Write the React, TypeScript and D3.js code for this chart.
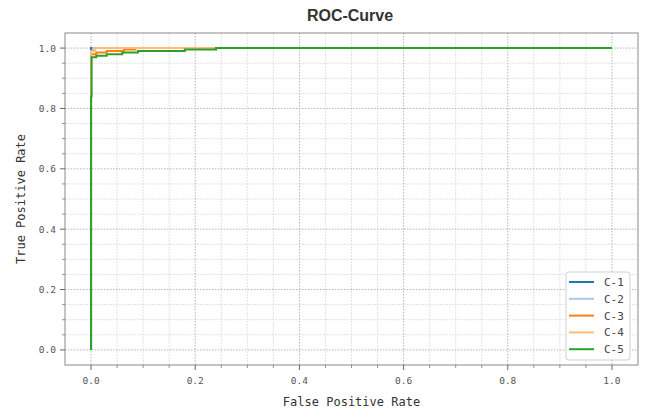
import React from "react";
import * as d3 from "d3";

const seriesNames = ["C-1", "C-2", "C-3", "C-4", "C-5"];
const seriesColors = ["#1f77b4", "#aec7e8", "#ff7f0e", "#ffbb78", "#2ca02c"];

const c1Fpr = [0, 0, 1];
const c1Tpr = [0, 1, 1];
const c2Fpr = [0, 0, 0.004, 0.004, 1];
const c2Tpr = [0, 0.99, 0.99, 1, 1];
const c3Fpr = [0, 0, 0.01, 0.01, 0.03, 0.03, 0.063, 0.063, 0.085, 0.085, 1];
const c3Tpr = [0, 0.98, 0.98, 0.985, 0.985, 0.99, 0.99, 0.995, 0.995, 1, 1];
const c4Fpr = [0, 0, 0.008, 0.008, 1];
const c4Tpr = [0, 0.99, 0.99, 1, 1];
const c5Fpr = [0, 0, 0.001, 0.001, 0.01, 0.01, 0.03, 0.03, 0.06, 0.06, 0.09, 0.09, 0.18, 0.18, 0.24, 0.24, 1];
const c5Tpr = [0, 0.84, 0.84, 0.97, 0.97, 0.975, 0.975, 0.98, 0.98, 0.985, 0.985, 0.99, 0.99, 0.995, 0.995, 1, 1];

const xTicks = [0, 0.2, 0.4, 0.6, 0.8, 1.0];
const yTicks = [0, 0.2, 0.4, 0.6, 0.8, 1.0];

const allFpr = [c1Fpr, c2Fpr, c3Fpr, c4Fpr, c5Fpr];
const allTpr = [c1Tpr, c2Tpr, c3Tpr, c4Tpr, c5Tpr];

export default function App() {
  const W = 645, H = 413;
  const L = 65, R = 638, T = 33, B = 365;
  const x = d3.scaleLinear().domain([-0.05, 1.05]).range([L, R]);
  const y = d3.scaleLinear().domain([-0.05, 1.05]).range([B, T]);
  const minor = d3.range(0, 1.0001, 0.05).filter((v) => Math.abs(v * 5 - Math.round(v * 5)) > 1e-6);
  const line = d3.line<[number, number]>().x((d) => x(d[0])).y((d) => y(d[1]));
  const mono = "'DejaVu Sans Mono', monospace";

  return (
    <svg width={W} height={H} style={{ position: "absolute", left: 0, top: 0 }}>
      <rect x={0} y={0} width={W} height={H} fill="#fff" />
      {minor.map((v, i) => (
        <g key={"mg" + i}>
          <line x1={x(v)} x2={x(v)} y1={T} y2={B} stroke="#dadada" strokeWidth={0.8} strokeDasharray="2,1" />
          <line x1={L} x2={R} y1={y(v)} y2={y(v)} stroke="#dadada" strokeWidth={0.8} strokeDasharray="2,1" />
        </g>
      ))}
      {xTicks.map((v, i) => (
        <line key={"gx" + i} x1={x(v)} x2={x(v)} y1={T} y2={B} stroke="#adadad" strokeWidth={0.9} strokeDasharray="1.5,1.5" />
      ))}
      {yTicks.map((v, i) => (
        <line key={"gy" + i} x1={L} x2={R} y1={y(v)} y2={y(v)} stroke="#adadad" strokeWidth={0.9} strokeDasharray="1.5,1.5" />
      ))}
      {allFpr.map((fpr, i) => (
        <path
          key={"c" + i}
          d={line(fpr.map((f, j) => [f, allTpr[i][j]] as [number, number])) || ""}
          fill="none"
          stroke={seriesColors[i]}
          strokeWidth={2}
        />
      ))}
      <rect x={L} y={T} width={R - L} height={B - T} fill="none" stroke="#8a8a8a" strokeWidth={1} />
      {xTicks.map((v, i) => (
        <g key={"tx" + i}>
          <line x1={x(v)} x2={x(v)} y1={B} y2={B + 5} stroke="#666" strokeWidth={1} />
          <text x={x(v)} y={B + 19} textAnchor="middle" fontFamily={mono} fontSize={9.5} fill="#555">
            {v.toFixed(1)}
          </text>
        </g>
      ))}
      {minor.map((v, i) => (
        <g key={"mt" + i}>
          <line x1={x(v)} x2={x(v)} y1={B} y2={B + 3} stroke="#777" strokeWidth={0.8} />
          <line x1={L - 3} x2={L} y1={y(v)} y2={y(v)} stroke="#777" strokeWidth={0.8} />
        </g>
      ))}
      {yTicks.map((v, i) => (
        <g key={"ty" + i}>
          <line x1={L - 5} x2={L} y1={y(v)} y2={y(v)} stroke="#666" strokeWidth={1} />
          <text x={L - 9} y={y(v) + 3.5} textAnchor="end" fontFamily={mono} fontSize={9.5} fill="#555">
            {v.toFixed(1)}
          </text>
        </g>
      ))}
      <text x={(L + R) / 2} y={406} textAnchor="middle" fontFamily={mono} fontSize={12} fill="#333">
        False Positive Rate
      </text>
      <text
        transform={`translate(25,${(T + B) / 2}) rotate(-90)`}
        textAnchor="middle"
        fontFamily={mono}
        fontSize={12}
        fill="#333"
      >
        True Positive Rate
      </text>
      <text x={350} y={21} textAnchor="middle" fontFamily="'Liberation Sans', Arial, sans-serif" fontWeight="bold" fontSize={16} fill="#333">
        ROC-Curve
      </text>
      <rect x={566} y={272} width={64} height={88} rx={3} fill="#fff" fillOpacity={0.9} stroke="#d0d0d0" strokeWidth={1} />
      {seriesNames.map((n, i) => (
        <g key={"lg" + i}>
          <line x1={569} x2={594} y1={282 + i * 16.8} y2={282 + i * 16.8} stroke={seriesColors[i]} strokeWidth={2} />
          <text x={604} y={282 + i * 16.8 + 4} fontFamily={mono} fontSize={11} fill="#444">
            {n}
          </text>
        </g>
      ))}
    </svg>
  );
}
